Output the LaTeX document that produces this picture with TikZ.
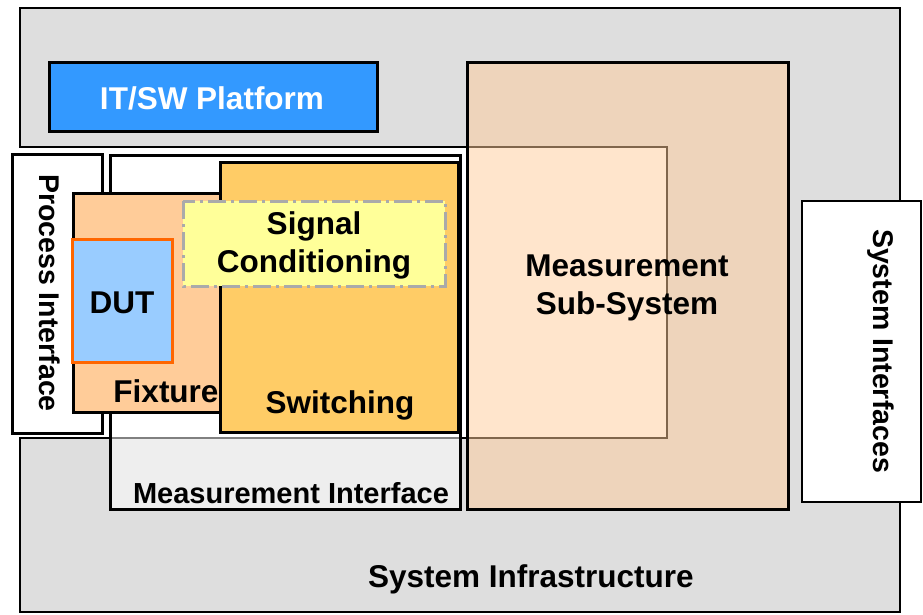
\documentclass[tikz,border=0pt]{standalone}
\usepackage{fontspec}
\setmainfont{Liberation Sans}
\definecolor{infragray}{HTML}{DEDEDE}
\definecolor{platblue}{HTML}{3399FF}
\definecolor{peach}{HTML}{FFCC99}
\definecolor{dutblue}{HTML}{99CCFF}
\definecolor{dutorange}{HTML}{FF6600}
\definecolor{switchorange}{HTML}{FFCC66}
\definecolor{condyellow}{HTML}{FFFF99}
\definecolor{condgray}{HTML}{AAAAAA}

\begin{document}
\begin{tikzpicture}[x=1pt,y=-1pt,
    box/.style={draw=black,line width=3pt},
    lbl/.style={font=\fontsize{31.5}{38}\selectfont\bfseries,align=center,inner sep=0pt},
    sidelbl/.style={lbl,font=\fontsize{28.5}{34}\selectfont\bfseries,rotate=-90}]
  \useasboundingbox (0,0) rectangle (923,614);
  % System Infrastructure (open to the left)
  \filldraw[box,line width=2.5pt,fill=infragray] (20,8) -- (900,8) -- (900,612) -- (20,612)
     -- (20,438) -- (667,438) -- (667,147) -- (20,147) -- cycle;
  \filldraw[box,fill=platblue] (49,62) rectangle (377,131);
  \filldraw[box,fill=white] (12,154) rectangle (102,433);
  \filldraw[box,fill=white,fill opacity=0.5] (110,155) rectangle (460,509);
  \filldraw[box,fill=peach] (73,193) rectangle (222,412);
  \filldraw[box,draw=dutorange,fill=dutblue] (72,239) rectangle (172,362);
  \filldraw[box,fill=switchorange] (220,162) rectangle (458,432);
  \filldraw[box,draw=condgray,fill=condyellow,dash pattern=on 18pt off 5pt on 3pt off 5pt]
     (183,201) rectangle (445,286);
  \filldraw[box,fill=peach,fill opacity=0.5] (467,62) rectangle (788,509);
  \filldraw[box,line width=2.5pt,fill=white] (802,201) rectangle (921,502);
  % labels
  \node[lbl,text=white,anchor=base] (platform) at (212,109) {IT/SW Platform};
  \node[sidelbl] (process) at (50,293) {Process Interface};
  \node[lbl] (cond) at (314,245) {Signal\\Conditioning};
  \node[lbl,anchor=base] (dut) at (122,313) {DUT};
  \node[lbl,anchor=base] (fixture) at (166,402) {Fixture};
  \node[lbl,anchor=base] (switching) at (340,413) {Switching};
  \node[lbl,anchor=base,font=\fontsize{29}{36}\selectfont\bfseries] (measif) at (291,503) {Measurement Interface};
  \node[lbl] (mss) at (627,288) {Measurement\\Sub-System};
  \node[sidelbl] (sysif) at (881,351) {System Interfaces};
  \node[lbl,anchor=base] (infra) at (531,587) {System Infrastructure};
\end{tikzpicture}
\end{document}
